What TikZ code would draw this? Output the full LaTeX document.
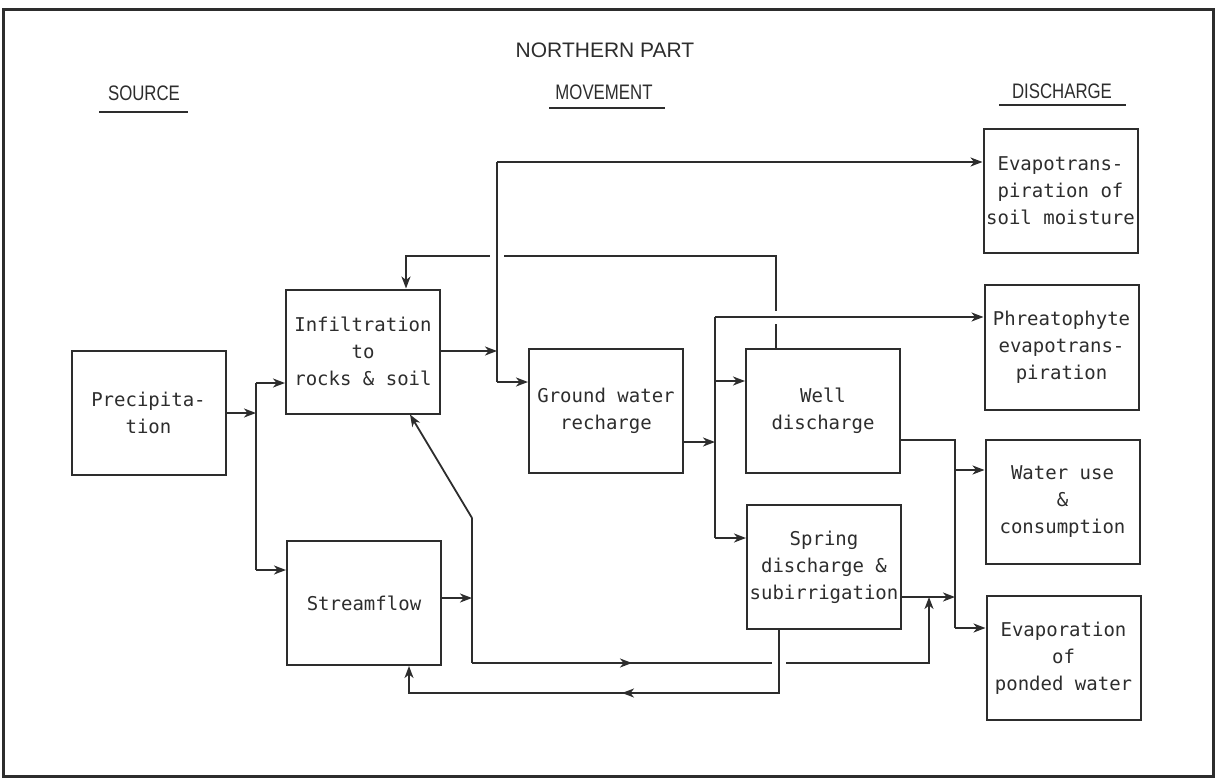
\documentclass[tikz,border=0pt]{standalone}
\usepackage{fontspec}
\setmainfont{DejaVu Sans Mono}
\newfontfamily\hdrfont{Liberation Sans}
\newfontfamily\colfont[FakeStretch=0.8]{Liberation Sans}
\usetikzlibrary{arrows.meta}
\definecolor{ink}{RGB}{45,45,45}
\begin{document}
\begin{tikzpicture}[x=1pt,y=-1pt,
  box/.style={draw=ink, line width=2pt, minimum width=154pt, minimum height=124pt, inner sep=0pt, align=center, font=\fontsize{19}{27}\selectfont, text=ink},
  ln/.style={draw=ink, line width=1.8pt},
  arr/.style={ln, -{Stealth[length=12pt,width=9pt,inset=3.5pt]}},
  hdr/.style={font=\hdrfont\fontsize{21}{25}\selectfont, text=ink, inner sep=0pt},
  col/.style={font=\colfont\fontsize{21}{25}\selectfont, text=ink, inner sep=0pt},
  gap/.style={fill=white, draw=none}
]
\useasboundingbox (0,0) rectangle (1216,778);
\draw[ink, line width=3pt] (3,10) rectangle (1213,776);

% headers
\node[hdr] (title) at (605,50) {NORTHERN PART};
\node[col] (src) at (144,93) {SOURCE};
\node[col] (mov) at (604,92) {MOVEMENT};
\node[col] (dis) at (1062,91) {DISCHARGE};
\draw[ln] (99,112) -- (188,112);
\draw[ln] (549,108) -- (665,108);
\draw[ln] (999,105) -- (1126,105);

% boxes
\node[box] (prec) at (148.5,413) {Precipita-\\tion};
\node[box] (infil) at (363,351.5) {Infiltration\\to\\rocks \& soil};
\node[box] (stream) at (364,603) {Streamflow};
\node[box] (gwr) at (606,411) {Ground water\\recharge};
\node[box] (well) at (823,410.5) {Well\\discharge};
\node[box] (spring) at (824,567) {Spring\\discharge \&\\subirrigation};
\node[box] (evt) at (1060.5,191) {Evapotrans-\\piration of\\soil moisture};
\node[box] (phr) at (1061.5,347.5) {Phreatophyte\\evapotrans-\\piration};
\node[box] (wu) at (1062.5,501.5) {Water use\\\&\\consumption};
\node[box] (evp) at (1063.5,658) {Evaporation\\of\\ponded water};

% coordinates
\coordinate (jp) at (256,413);
\coordinate (jpu) at (256,383);
\coordinate (jpd) at (256,570);
\coordinate (ji) at (497,351);
\coordinate (jiu) at (497,162);
\coordinate (jid) at (497,382);
\coordinate (r1) at (776,256);
\coordinate (r2) at (406,256);
\coordinate (jg) at (715,442);
\coordinate (jgu) at (715,317);
\coordinate (jgw) at (715,381);
\coordinate (jgd) at (715,538);
\coordinate (jw) at (955,440);
\coordinate (jwu) at (955,470);
\coordinate (jwd) at (955,628);
\coordinate (js) at (955,597);
\coordinate (jst) at (472,598);
\coordinate (jsu) at (472,518);
\coordinate (jsd) at (472,663);
\coordinate (dx) at (410,414);
\coordinate (b1) at (929,663);
\coordinate (m1) at (632,663);
\coordinate (sd) at (779,693);
\coordinate (sl) at (409,693);
\coordinate (m2) at (622,693);

% lines that pass under others
\draw[arr] (well.north -| r1) -- (r1) -- (r2) -- (infil.north -| r2);
\draw[arr] (jsd) -- (b1) -- (b1 |- js);
\draw[arr] (jsd) -- (m1);
\fill[gap] (490,252) rectangle (504,260);
\fill[gap] (772,311) rectangle (780,324);
\fill[gap] (772,659) rectangle (786,667);

% precipitation
\draw[arr] (prec.east |- jp) -- (jp);
\draw[ln] (jpu) -- (jpd);
\draw[arr] (jpu) -- (infil.west |- jpu);
\draw[arr] (jpd) -- (stream.west |- jpd);

% infiltration
\draw[arr] (infil.east |- ji) -- (ji);
\draw[ln] (jiu) -- (jid);
\draw[arr] (jiu) -- (evt.west |- jiu);
\draw[arr] (jid) -- (gwr.west |- jid);

% ground water recharge
\draw[arr] (gwr.east |- jg) -- (jg);
\draw[ln] (jgu) -- (jgd);
\draw[arr] (jgu) -- (phr.west |- jgu);
\draw[arr] (jgw) -- (well.west |- jgw);
\draw[arr] (jgd) -- (spring.west |- jgd);

% well and spring discharge
\draw[ln] (well.east |- jw) -- (jw) -- (jwd);
\draw[arr] (jwu) -- (wu.west |- jwu);
\draw[arr] (jwd) -- (evp.west |- jwd);
\draw[arr] (spring.east |- js) -- (js);

% streamflow
\draw[arr] (stream.east |- jst) -- (jst);
\draw[ln] (jsu) -- (jsd);
\draw[arr] (jsu) -- (infil.south -| dx);

% spring back to streamflow
\draw[arr] (spring.south -| sd) -- (sd) -- (sl) -- (stream.south -| sl);
\draw[arr] (sd) -- (m2);
\end{tikzpicture}
\end{document}
